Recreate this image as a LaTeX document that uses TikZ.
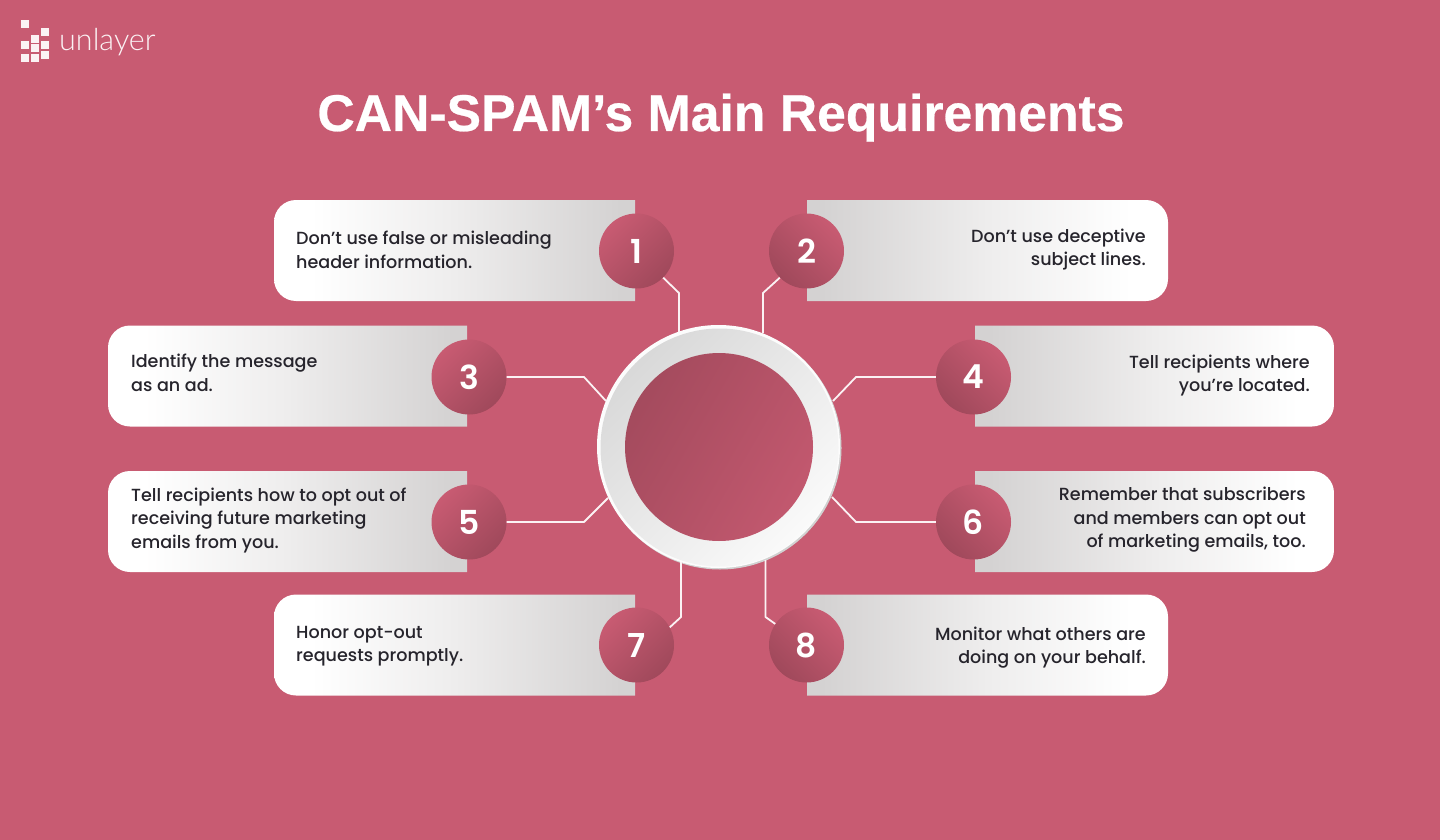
\documentclass[tikz,border=0pt]{standalone}
\usepackage{fontspec}
\setmainfont{Poppins Medium}
\newfontfamily\titlefont[BoldFeatures={FakeBold=0.5}]{Liberation Sans}
\newfontfamily\logofont{Lato Light}
\newfontfamily\numfont{Poppins SemiBold}
\usetikzlibrary{calc}
\definecolor{bg}{RGB}{200,91,114}
\definecolor{ink}{RGB}{38,36,44}
\definecolor{cardgrey}{RGB}{212,210,210}
\definecolor{cardmid}{RGB}{238,237,237}
\pgfdeclarehorizontalshading{cardL}{100bp}{color(0bp)=(white); color(30bp)=(white); color(50bp)=(cardmid); color(73bp)=(cardgrey); color(100bp)=(cardgrey)}
\pgfdeclarehorizontalshading{cardR}{100bp}{color(0bp)=(cardgrey); color(27bp)=(cardgrey); color(50bp)=(cardmid); color(70bp)=(white); color(100bp)=(white)}
\tikzset{
  x=1pt,y=-1pt,
  numdisc/.style={circle,minimum size=75pt,inner sep=0pt,text=white,font=\numfont\fontsize{33}{33}\selectfont},
  lefttxt/.style={anchor=west,align=left,text=ink,font=\fontsize{17.55}{23.5}\selectfont,inner sep=0pt},
  righttxt/.style={anchor=east,align=right,text=ink,font=\fontsize{17.55}{23.5}\selectfont,inner sep=0pt},
  wire/.style={draw=white!92!bg,line width=1.8pt,line join=round},
  logosq/.style={fill=white!92!bg,draw=none},
}
\newcommand{\leftcard}[3]{% x-left, y-top, width
  \path[shading=cardL] (#1+#3,#2) [rounded corners=22pt] -- (#1,#2) -- (#1,#2+101) [sharp corners] -- (#1+#3,#2+101) -- cycle;
}
\newcommand{\rightcard}[3]{% x-right, y-top, width
  \path[shading=cardR] (#1-#3,#2) [rounded corners=22pt] -- (#1,#2) -- (#1,#2+101) [sharp corners] -- (#1-#3,#2+101) -- cycle;
}
\newcommand{\disc}[5]{\node[numdisc,left color=bg,middle color=bg,right color=bg!80!black,shading angle=#4] (#1) at (#2,#3) {#5};}
\begin{document}
\begin{tikzpicture}
\useasboundingbox (0,0) rectangle (1440,840);
\fill[bg] (0,0) rectangle (1440,840);

% logo
\foreach \a/\b in {21/20,40.7/27.7,40.7/40.7,40.7/50.7,31/34.7,31/44,31/53.7,21/40.7,21/53.7}{
  \fill[logosq] (\a,\b) rectangle ++(8,8);
}
\node[anchor=base west,inner sep=0pt,text=white!92!bg,font=\logofont\fontsize{30.5}{30.5}\selectfont] (logo) at (59,51) {unlayer};

% title
\node[anchor=base,inner sep=0pt,text=white,font=\titlefont\bfseries\fontsize{51.7}{52}\selectfont] (title) at (721,131) {CAN-SPAM’s Main Requirements};

% cards
\leftcard{274}{200}{361}
\rightcard{1168}{200}{361}
\leftcard{108}{325.5}{359}
\rightcard{1334}{325.5}{359}
\leftcard{108}{471}{359}
\rightcard{1334}{471}{359}
\leftcard{274}{594.5}{361}
\rightcard{1168}{594.5}{361}

% hub
\fill[white!82!black] (720,448) circle[radius=121.5];
\node[circle,minimum size=243pt,inner sep=0pt,fill=white!99!black] (hub) at (718.5,446.5) {};
\node[circle,minimum size=238pt,inner sep=0pt,left color=white!85!black,right color=white!98!black,shading angle=45] (ring) at (719.5,447.5) {};
\node[circle,minimum size=188pt,inner sep=0pt,left color=bg!82!black,right color=bg!97!black,shading angle=60] (core) at (719,447) {};

% number discs
\disc{c1}{636.5}{251}{45}{1}
\disc{c2}{806.5}{251}{-45}{2}
\disc{c3}{469}{377}{45}{3}
\disc{c4}{973.5}{377}{-45}{4}
\disc{c5}{469}{522}{45}{5}
\disc{c6}{973.5}{522}{-45}{6}
\disc{c7}{636.5}{645}{45}{7}
\disc{c8}{806.5}{645}{-45}{8}

% elbows
\coordinate (e1) at (679,293);
\coordinate (e2) at (763,293);
\coordinate (e3) at (584,377);
\coordinate (e4) at (856,377);
\coordinate (e5) at (584,522);
\coordinate (e6) at (856,522);
\coordinate (e7) at (681,617);
\coordinate (e8) at (765.5,617);
\coordinate (h1) at (679,332);
\coordinate (h2) at (763,333);
\coordinate (h3) at (606,401);
\coordinate (h4) at (833,401);
\coordinate (h5) at (608,498);
\coordinate (h6) at (832,497);
\coordinate (h7) at (681,562);
\coordinate (h8) at (765.5,560);

\draw[wire] (c1.-45) -- (e1) -- (h1);
\draw[wire] (c2.-135) -- (e2) -- (h2);
\draw[wire] (c3.east) -- (e3) -- (h3);
\draw[wire] (c4.west) -- (e4) -- (h4);
\draw[wire] (c5.east) -- (e5) -- (h5);
\draw[wire] (c6.west) -- (e6) -- (h6);
\draw[wire] (c7.28) -- (e7) -- (h7);
\draw[wire] (c8.146) -- (e8) -- (h8);

% texts
\node[lefttxt] (t1) at (296,250) {Don’t use false or misleading\\header information.};
\node[righttxt] (t2) at (1146,249.5) {Don’t use deceptive\\subject lines.};
\node[lefttxt] (t3) at (131,373) {Identify the message\\as an ad.};
\node[righttxt] (t4) at (1310,375.5) {Tell recipients where\\you’re located.};
\node[lefttxt] (t5) at (131,520) {Tell recipients how to opt out of\\receiving future marketing\\emails from you.};
\node[righttxt] (t6) at (1306,520) {Remember that subscribers\\and members can opt out\\of marketing emails, too.};
\node[lefttxt] (t7) at (296,646) {Honor opt-out\\requests promptly.};
\node[righttxt] (t8) at (1146,647.5) {Monitor what others are\\doing on your behalf.};
\end{tikzpicture}
\end{document}
